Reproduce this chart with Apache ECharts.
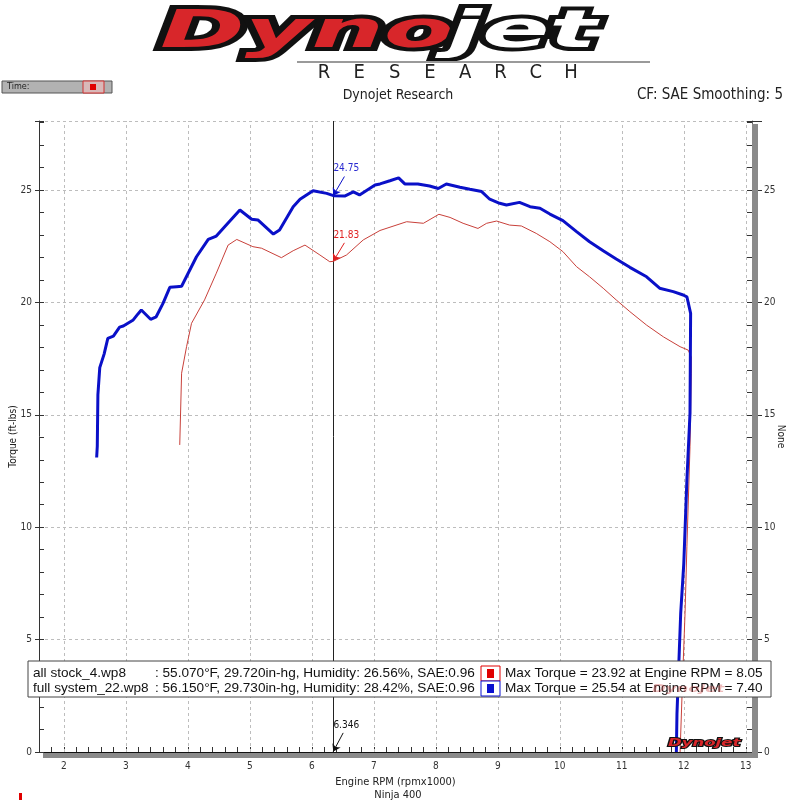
<!DOCTYPE html>
<html lang="en">
<head>
<meta charset="UTF-8">
<title>Dynojet Research - Ninja 400</title>
<script src="https://cdn.jsdelivr.net/npm/echarts@6/dist/echarts.min.js"></script>
<style>
  html, body { margin: 0; padding: 0; background: #fff; }
  #chart { width: 800px; height: 800px; }
</style>
</head>
<body>
<div id="chart"></div>
<script>
// run data (rpm x1000, torque ft-lbs)
var fullRpm = [2.53, 2.54, 2.55, 2.58, 2.65, 2.71, 2.80, 2.90, 2.96, 3.12, 3.20, 3.25, 3.40, 3.49, 3.60, 3.71, 3.82, 3.90,
  4.14, 4.33, 4.46, 4.62, 4.84, 5.03, 5.13, 5.38, 5.48, 5.70, 5.81, 6.02, 6.24, 6.35, 6.53, 6.67, 6.77, 7.02, 7.10, 7.26,
  7.40, 7.50, 7.71, 7.90, 8.04, 8.17, 8.39, 8.55, 8.74, 8.87, 9.03, 9.14, 9.35, 9.52, 9.68, 9.84, 10.05, 10.27, 10.48,
  10.70, 10.91, 11.13, 11.40, 11.61, 11.83, 11.99, 12.05, 12.11, 12.10, 12.05, 12.00, 11.95, 11.92, 11.89, 11.88];
var fullTorque = [13.1, 13.6, 15.9, 17.1, 17.7, 18.4, 18.5, 18.9, 18.95, 19.22, 19.5, 19.66, 19.25, 19.36, 19.96, 20.67, 20.70, 20.72,
  22.03, 22.8, 22.95, 23.44, 24.11, 23.70, 23.67, 23.04, 23.22, 24.26, 24.59, 24.97, 24.85, 24.75, 24.73, 24.92, 24.78, 25.22, 25.27, 25.41,
  25.54, 25.27, 25.27, 25.18, 25.07, 25.27, 25.12, 25.03, 24.93, 24.59, 24.41, 24.33, 24.45, 24.26, 24.19, 23.93, 23.64, 23.15, 22.70,
  22.30, 21.93, 21.56, 21.14, 20.63, 20.48, 20.33, 20.25, 19.51, 15.07, 12.10, 8.39, 6.17, 3.95, 1.72, 0];

var stockRpm = [3.87, 3.90, 3.98, 4.06, 4.27, 4.46, 4.65, 4.79, 5.05, 5.19, 5.51, 5.70, 5.89, 6.13, 6.29, 6.35, 6.56, 6.83,
  7.10, 7.53, 7.80, 8.05, 8.23, 8.44, 8.68, 8.82, 8.98, 9.19, 9.38, 9.62, 9.84, 10.05, 10.27, 10.48, 10.70, 10.91, 11.13,
  11.40, 11.67, 11.94, 12.07, 12.12, 12.12, 12.10, 12.05, 12.02, 11.98, 11.94];
var stockTorque = [13.66, 16.85, 18.03, 19.07, 20.11, 21.30, 22.55, 22.80, 22.48, 22.41, 21.99, 22.30, 22.55, 22.11, 21.81, 21.83, 22.11, 22.78,
  23.2, 23.59, 23.52, 23.92, 23.78, 23.52, 23.29, 23.52, 23.62, 23.44, 23.40, 23.07, 22.70, 22.26, 21.59, 21.14, 20.63, 20.11, 19.59,
  18.99, 18.47, 18.03, 17.88, 17.58, 16.85, 13.58, 9.13, 6.17, 3.2, 0];

var rpmGrid = [2, 3, 4, 5, 6, 7, 8, 9, 10, 11, 12, 13];
var cursorRpm = 6.346;
var cursorFull = 24.75;
var cursorStock = 21.83;

var legendRows = [
  { name: 'all stock_4.wp8', info: ': 55.070°F, 29.720in-hg, Humidity: 26.56%, SAE:0.96', max: 'Max Torque = 23.92 at Engine RPM = 8.05', color: '#e00000' },
  { name: 'full system_22.wp8', info: ': 56.150°F, 29.730in-hg, Humidity: 28.42%, SAE:0.96', max: 'Max Torque = 25.54 at Engine RPM = 7.40', color: '#0a10d0' }
];

var BLUE = '#0a10c8';
var RED = '#c8403a';
var FONT = "'DejaVu Sans Condensed', 'DejaVu Sans', sans-serif";
var LEG_FONT = "'Liberation Sans', 'DejaVu Sans', sans-serif";

function pairs(xs, ys) {
  return xs.map(function (x, i) { return [x, ys[i]]; });
}

// show a label only on whole numbers that are a multiple of step
function every(step) {
  return function (v) {
    var r = Math.round(v);
    return (Math.abs(v - r) < 1e-6 && r % step === 0) ? String(r) : '';
  };
}

var myChart = echarts.init(document.getElementById('chart'));

// logo + header decorations
var graphics = [];
graphics.push({
  type: 'text', left: 152, top: 4, z: 10, scaleX: 2.0,
  style: { text: 'Dyno', font: 'italic 900 51px "DejaVu Sans"', fill: '#d8262a', stroke: '#111', lineWidth: 8 }
});
graphics.push({
  type: 'text', left: 440, top: 4, z: 10, scaleX: 1.95,
  style: { text: 'jet', font: 'italic 900 51px "DejaVu Sans"', fill: '#fff', stroke: '#111', lineWidth: 8 }
});
graphics.push({ type: 'line', z: 10, shape: { x1: 297, y1: 62, x2: 650, y2: 62 }, style: { stroke: '#9a9a9a', lineWidth: 2 } });
'RESEARCH'.split('').forEach(function (ch, i) {
  graphics.push({
    type: 'text', z: 10, x: 324 + i * 35.3, y: 73,
    style: { text: ch, font: '20px ' + FONT, fill: '#222', align: 'center', verticalAlign: 'middle' }
  });
});
graphics.push({ type: 'text', z: 10, x: 398, y: 95, style: { text: 'Dynojet Research', font: '14px ' + FONT, fill: '#222', align: 'center', verticalAlign: 'middle' } });
graphics.push({ type: 'text', z: 10, x: 783, y: 95, style: { text: 'CF: SAE Smoothing: 5', font: '15px ' + FONT, fill: '#222', align: 'right', verticalAlign: 'middle' } });

// Time: box
graphics.push({ type: 'rect', z: 10, shape: { x: 2, y: 81, width: 110, height: 12 }, style: { fill: '#b2b2b2', stroke: '#555', lineWidth: 1 } });
graphics.push({ type: 'text', z: 11, x: 7, y: 87, style: { text: 'Time:', font: '9px ' + FONT, fill: '#222', verticalAlign: 'middle' } });
graphics.push({ type: 'rect', z: 11, shape: { x: 83, y: 81, width: 21, height: 12 }, style: { fill: '#d9b8b8', stroke: '#d03030', lineWidth: 1 } });
graphics.push({ type: 'rect', z: 12, shape: { x: 90, y: 84, width: 6, height: 6 }, style: { fill: '#e00000' } });

// shadowed frame bars on bottom and right
graphics.push({ type: 'rect', z: 8, shape: { x: 43, y: 753, width: 715, height: 5 }, style: { fill: '#8a8a8a' } });
graphics.push({ type: 'rect', z: 8, shape: { x: 752, y: 124, width: 6, height: 634 }, style: { fill: '#8a8a8a' } });

// legend box
graphics.push({ type: 'rect', z: 20, shape: { x: 28, y: 661, width: 743, height: 36 }, style: { fill: '#fff', stroke: '#444', lineWidth: 1 } });
legendRows.forEach(function (row, i) {
  var cy = 673 + i * 15;
  graphics.push({ type: 'text', z: 21, x: 33, y: cy, style: { text: row.name, font: '13.6px ' + LEG_FONT, fill: '#111', verticalAlign: 'middle' } });
  graphics.push({ type: 'text', z: 21, x: 155, y: cy, style: { text: row.info, font: '13.6px ' + LEG_FONT, fill: '#111', verticalAlign: 'middle' } });
  graphics.push({ type: 'rect', z: 21, shape: { x: 481, y: cy - 7, width: 19, height: 15 }, style: { fill: '#fff', stroke: row.color, lineWidth: 1 } });
  graphics.push({ type: 'rect', z: 22, shape: { x: 487, y: cy - 4, width: 7, height: 9 }, style: { fill: row.color } });
  graphics.push({ type: 'text', z: 21, x: 505, y: cy, style: { text: row.max, font: '13.6px ' + LEG_FONT, fill: '#111', verticalAlign: 'middle' } });
});
// faint watermark over the legend
graphics.push({
  type: 'text', z: 23, x: 652, y: 684, scaleX: 1.5,
  style: { text: 'Dynojet', font: 'italic 900 11px "DejaVu Sans"', fill: 'rgba(200,60,60,0.35)' }
});
// small logo bottom right
graphics.push({
  type: 'text', z: 23, x: 668, y: 738, scaleX: 1.5,
  style: { text: 'Dynojet', font: 'italic 900 11px "DejaVu Sans"', fill: '#d8262a', stroke: '#111', lineWidth: 2 }
});
graphics.push({ type: 'text', z: 10, x: 398, y: 795, style: { text: 'Ninja 400', font: '11px ' + FONT, fill: '#222', align: 'center', verticalAlign: 'middle' } });
graphics.push({ type: 'rect', z: 10, shape: { x: 19, y: 793, width: 3, height: 7 }, style: { fill: '#e00000' } });

var tickLabel = { color: '#333', fontSize: 10, fontFamily: FONT };

myChart.setOption({
  animation: false,
  backgroundColor: '#fff',
  grid: { left: 39, right: 48, top: 121, bottom: 48, containLabel: false, outerBoundsMode: 'none' },
  xAxis: [{
    type: 'value', min: 1.6, max: 13.1, interval: 0.2,
    name: 'Engine RPM (rpmx1000)', nameLocation: 'middle', nameGap: 25,
    nameTextStyle: { color: '#222', fontSize: 11, fontFamily: FONT },
    axisLine: { lineStyle: { color: '#333', width: 1 } },
    axisTick: { inside: true, length: 5, lineStyle: { color: '#333' } },
    axisLabel: Object.assign({ formatter: every(1), margin: 9 }, tickLabel),
    splitLine: { show: false }
  }, {
    type: 'value', position: 'top', min: 1.6, max: 13.1,
    axisLine: { lineStyle: { color: '#111', width: 1 } },
    axisTick: { show: false }, axisLabel: { show: false }, splitLine: { show: false }
  }],
  yAxis: [{
    type: 'value', position: 'left', min: 0, max: 28.07, interval: 1,
    name: 'Torque (ft-lbs)', nameLocation: 'middle', nameGap: 21, nameRotate: 90, nameMoveOverlap: false,
    nameTextStyle: { color: '#222', fontSize: 10, fontFamily: FONT },
    axisLine: { show: true, lineStyle: { color: '#333', width: 1 } },
    axisTick: { show: true, inside: true, length: 5, lineStyle: { color: '#333' } },
    axisLabel: Object.assign({ formatter: every(5), margin: 7 }, tickLabel),
    splitLine: { show: false }
  }, {
    type: 'value', position: 'left', min: 0, max: 28.07, interval: 5,
    axisLine: { show: false },
    axisTick: { show: true, length: 4, lineStyle: { color: '#333' } },
    axisLabel: { show: false },
    splitLine: { show: true, lineStyle: { color: '#bdbdbd', type: [3, 3], width: 1 } }
  }, {
    type: 'value', position: 'right', min: 0, max: 28.07, interval: 1,
    name: 'None', nameLocation: 'middle', nameGap: 24, nameRotate: -90,
    nameTextStyle: { color: '#222', fontSize: 10, fontFamily: FONT },
    axisLine: { show: true, lineStyle: { color: '#666', width: 1 } },
    axisTick: { show: true, inside: true, length: 5, lineStyle: { color: '#333' } },
    axisLabel: { show: false },
    splitLine: { show: false }
  }, {
    type: 'value', position: 'right', min: 0, max: 28.07, interval: 5,
    axisLine: { show: false },
    axisTick: { show: true, length: 10, lineStyle: { color: '#333' } },
    axisLabel: Object.assign({ formatter: every(5), margin: 12 }, tickLabel),
    splitLine: { show: false }
  }],
  graphic: graphics,
  series: [{
    name: 'all stock_4.wp8', type: 'line', xAxisIndex: 0, yAxisIndex: 0, z: 3,
    data: pairs(stockRpm, stockTorque), symbol: 'none',
    lineStyle: { color: RED, width: 1 },
    markLine: {
      silent: true, z: 6, symbol: ['none', 'arrow'], symbolSize: 7, label: { show: false },
      data: [
        [{ coord: [cursorRpm + 0.18, cursorFull + 0.85], lineStyle: { color: BLUE, width: 1, type: 'solid' } }, { coord: [cursorRpm, cursorFull] }],
        [{ coord: [cursorRpm + 0.18, cursorStock + 0.82], lineStyle: { color: '#e02020', width: 1, type: 'solid' } }, { coord: [cursorRpm, cursorStock] }],
        [{ coord: [cursorRpm + 0.16, 0.85], lineStyle: { color: '#111', width: 1, type: 'solid' } }, { coord: [cursorRpm, 0.02] }]
      ]
    },
    markPoint: {
      silent: true, z: 6, symbol: 'rect', symbolSize: 1, itemStyle: { color: 'rgba(0,0,0,0)' },
      label: { show: true, position: 'inside', fontSize: 10, fontFamily: FONT },
      data: [
        { coord: [cursorRpm + 0.21, cursorFull + 1.23], label: { formatter: String(cursorFull), color: '#2a2ad0' } },
        { coord: [cursorRpm + 0.21, cursorStock + 1.17], label: { formatter: String(cursorStock), color: '#e02020' } },
        { coord: [cursorRpm + 0.21, 1.2], label: { formatter: String(cursorRpm), color: '#111' } }
      ]
    }
  }, {
    name: 'full system_22.wp8', type: 'line', xAxisIndex: 0, yAxisIndex: 0, z: 4,
    data: pairs(fullRpm, fullTorque), symbol: 'none',
    lineStyle: { color: BLUE, width: 3 },
    markLine: {
      silent: true, z: 1, symbol: 'none', label: { show: false },
      lineStyle: { color: '#bdbdbd', type: [3, 3], width: 1 },
      data: rpmGrid.map(function (v) { return { xAxis: v }; }).concat([
        { xAxis: cursorRpm, lineStyle: { color: '#222', type: 'solid', width: 1 } }
      ])
    }
  }]
});
</script>
</body>
</html>
